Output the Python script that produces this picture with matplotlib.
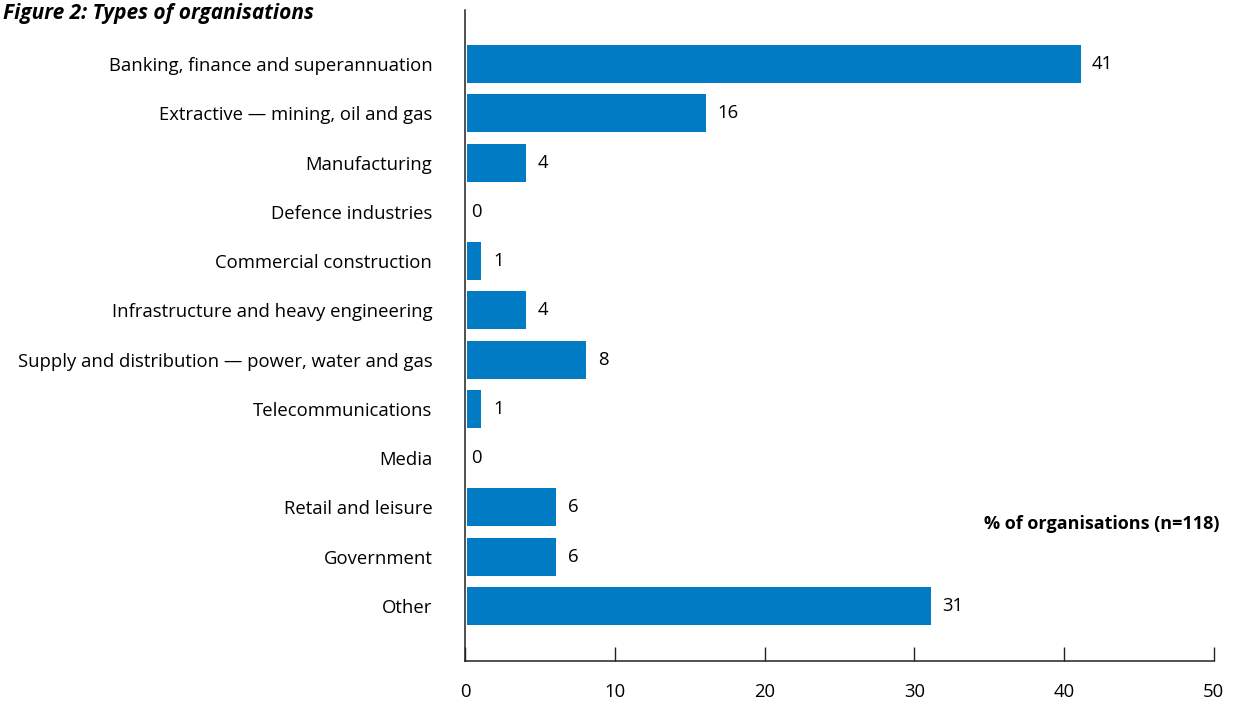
import matplotlib
matplotlib.use("Agg")
import matplotlib.pyplot as plt
from matplotlib.transforms import offset_copy

categories = [
    "Banking, finance and superannuation",
    "Extractive \u2014 mining, oil and gas",
    "Manufacturing",
    "Defence industries",
    "Commercial construction",
    "Infrastructure and heavy engineering",
    "Supply and distribution \u2014 power, water and gas",
    "Telecommunications",
    "Media",
    "Retail and leisure",
    "Government",
    "Other",
]
values = [41, 16, 4, 0, 1, 4, 8, 1, 0, 6, 6, 31]
x_ticks = [0, 10, 20, 30, 40, 50]

plt.rcParams["font.family"] = ["Open Sans", "DejaVu Sans"]

fig = plt.figure(figsize=(12.45, 7.04), dpi=100)
ax = fig.add_axes([0.3735, 0.0611, 0.6015, 0.9247])

bar_color = "#007BC4"
pos = list(range(len(categories)))
ax.barh(pos, values, height=0.77, color=bar_color, left=0.1)

ax.set_xlim(0, 50)
ax.set_ylim(12.12, -1.1)

ax.set_yticks(pos)
ax.set_yticklabels(categories, fontsize=13.3)
ax.tick_params(axis="y", length=0, pad=23.5)

ax.set_xticks(x_ticks)
ax.set_xticklabels([str(t) for t in x_ticks], fontsize=13.3)
ax.tick_params(axis="x", direction="in", length=10, width=1, pad=16, color="#222222")

for s in ("top", "right"):
    ax.spines[s].set_visible(False)
for s in ("left", "bottom"):
    ax.spines[s].set_color("#222222")
    ax.spines[s].set_linewidth(1.1)

# value labels just right of each bar (closer to the axis for empty bars)
for p, v in zip(pos, values):
    dx = 13 if v > 0 else 6
    tr = offset_copy(ax.transData, fig=fig, x=dx, y=0, units="dots")
    ax.text(v, p, str(v), transform=tr, ha="left", va="center", fontsize=13.3)

ax.text(1220 / 1245, 1 - 524 / 704, "% of organisations (n=118)", transform=fig.transFigure,
        ha="right", va="center", fontsize=13, fontweight="bold")

fig.text(3 / 1245, 1 - 3 / 704, "Figure 2: Types of organisations", ha="left", va="top",
         fontsize=15, fontweight="bold", fontstyle="italic")

fig.savefig("out.png", dpi=100)
